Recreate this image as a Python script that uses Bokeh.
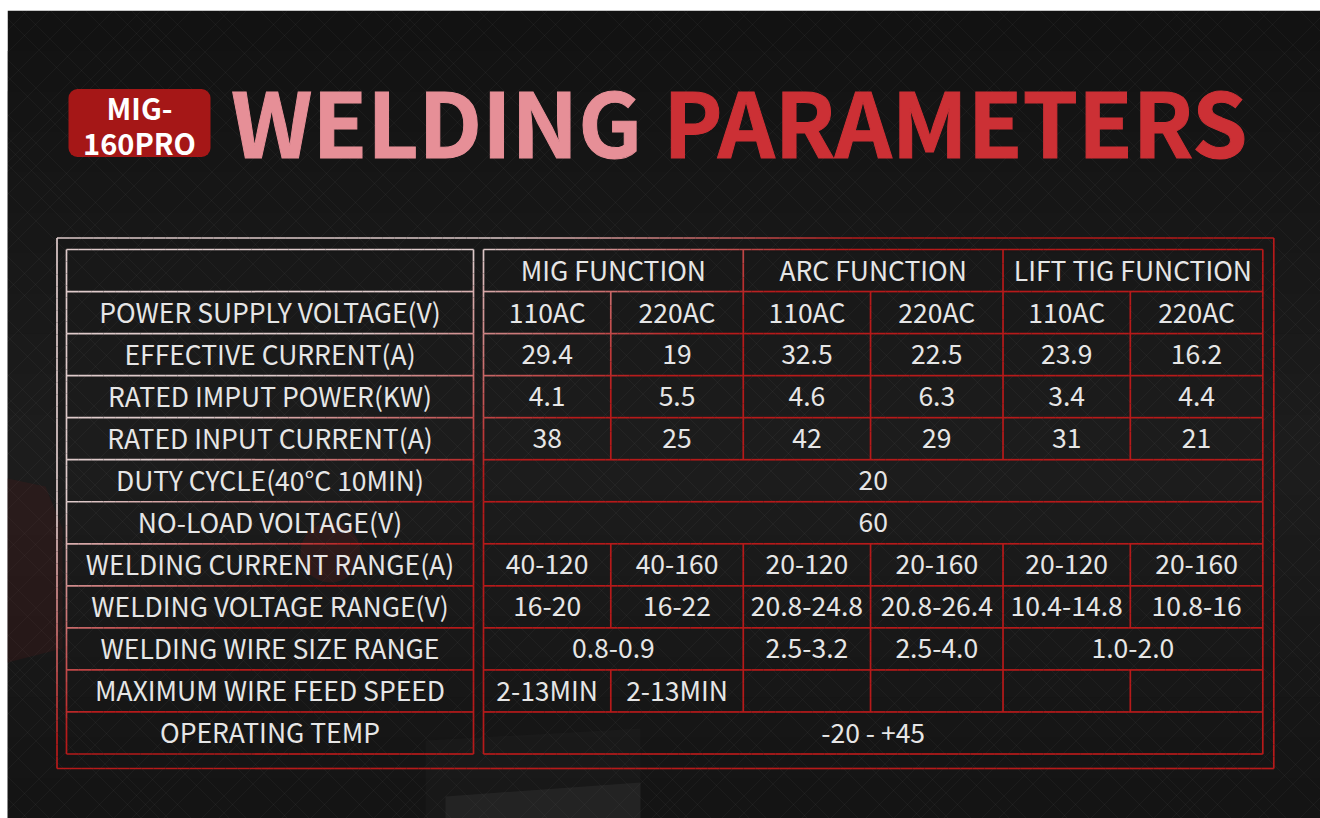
from bokeh.plotting import figure
from bokeh.models import Range1d, ColumnDataSource
from bokeh.core.properties import value
from bokeh.embed import file_html
from bokeh.resources import INLINE

# ---------------- data ----------------
badge_lines = ["MIG-", "160PRO"]
title_words = ["WELDING", "PARAMETERS"]
functions = ["MIG FUNCTION", "ARC FUNCTION", "LIFT TIG FUNCTION"]
row_labels = [
    "POWER SUPPLY VOLTAGE(V)",
    "EFFECTIVE CURRENT(A)",
    "RATED IMPUT POWER(KW)",
    "RATED INPUT CURRENT(A)",
    "DUTY CYCLE(40°C 10MIN)",
    "NO-LOAD VOLTAGE(V)",
    "WELDING CURRENT RANGE(A)",
    "WELDING VOLTAGE RANGE(V)",
    "WELDING WIRE SIZE RANGE",
    "MAXIMUM WIRE FEED SPEED",
    "OPERATING TEMP",
]
supply_voltage = ["110AC", "220AC", "110AC", "220AC", "110AC", "220AC"]
effective_current = [29.4, 19, 32.5, 22.5, 23.9, 16.2]
rated_input_power = [4.1, 5.5, 4.6, 6.3, 3.4, 4.4]
rated_input_current = [38, 25, 42, 29, 31, 21]
duty_cycle = 20
no_load_voltage = 60
welding_current_range = ["40-120", "40-160", "20-120", "20-160", "20-120", "20-160"]
welding_voltage_range = ["16-20", "16-22", "20.8-24.8", "20.8-26.4", "10.4-14.8", "10.8-16"]
wire_size_range = ["0.8-0.9", "2.5-3.2", "2.5-4.0", "1.0-2.0"]
wire_size_spans = [2, 1, 1, 2]
wire_feed_speed = ["2-13MIN", "2-13MIN", "", "", "", ""]
operating_temp = "-20 - +45"


def fmt(v):
    return f"{v:g}"


rows = [
    [(f, 2) for f in functions],
    [(s, 1) for s in supply_voltage],
    [(fmt(v), 1) for v in effective_current],
    [(fmt(v), 1) for v in rated_input_power],
    [(fmt(v), 1) for v in rated_input_current],
    [(fmt(duty_cycle), 6)],
    [(fmt(no_load_voltage), 6)],
    [(s, 1) for s in welding_current_range],
    [(s, 1) for s in welding_voltage_range],
    list(zip(wire_size_range, wire_size_spans)),
    [(s, 1) for s in wire_feed_speed],
    [(operating_temp, 6)],
]
labels = [""] + row_labels

# ---------------- layout ----------------
FONT = value("Noto Sans CJK SC")
PW, PH = 1320, 818
DX0, DY0 = 7, 10          # dark panel origin (white strip at left / top)
p = figure(width=PW, height=PH, x_range=Range1d(0, PW), y_range=Range1d(PH, 0),
           output_backend="svg", toolbar_location=None, min_border=0,
           x_axis_type=None, y_axis_type=None)
p.grid.visible = False
p.outline_line_color = None
p.background_fill_color = "#ffffff"
p.border_fill_color = "#ffffff"

# background vertical shading on the dark panel (overlapping opaque bands)
nb = 20
bh = (PH - DY0) / nb
bg_top, bg_bot, bg_col = [], [], []
for i in range(nb):
    t = (i + 0.5) / nb
    c = int(18 + 11 * (1 - abs(t - 0.55) / 0.55))
    bg_top.append(DY0 + i * bh)
    bg_bot.append(PH)
    bg_col.append(f"#{c:02x}{c:02x}{c:02x}")
p.quad(left=DX0, right=PW, top=bg_top, bottom=bg_bot, fill_color=bg_col, line_color=None)

# faint diagonal cross-hatching texture
hx0, hy0, hx1, hy1 = [], [], [], []
offs = [0, 23, 61, 78, 119, 141, 170, 205, 233, 251]
span_h = PH - DY0
for base in range(-900, 2200, 260):
    for o in offs:
        c = base + o
        hx0.append(c); hy0.append(PH); hx1.append(c + span_h); hy1.append(DY0)
        hx0.append(c); hy0.append(DY0); hx1.append(c + span_h); hy1.append(PH)
p.segment(hx0, hy0, hx1, hy1, line_color="#ffffff", line_alpha=0.035, line_width=1)
# mask the hatch in the white strips
p.quad(left=[0, 0], right=[DX0, PW], top=[0, 0], bottom=[PH, DY0], fill_color="#ffffff", line_color=None)

# faint background machine hints
p.patch([DX0, 45, 62, 62, DX0], [478, 486, 528, 648, 662], fill_color="#5a1c1c", fill_alpha=0.22, line_color=None)
p.circle(x=[330], y=[552], radius=30, fill_color="#6a1c1c", fill_alpha=0.25, line_color=None)
p.patch([425, 640, 640, 425], [740, 728, 818, 818], fill_color="#3a3a3a", fill_alpha=0.12, line_color=None)
p.patch([445, 640, 640, 445], [796, 782, 818, 818], fill_color="#5a5a5a", fill_alpha=0.18, line_color=None)

# badge
p.quad(left=[68], right=[210], top=[88.5], bottom=[156.5], fill_color="#a51717", line_color=None,
       border_radius=9)
p.text(x=[139, 139], y=[106, 141], text=badge_lines, text_font=FONT, text_font_style="bold",
       text_font_size="29px", text_align="center", text_baseline="middle", text_color="#ffffff")

# title
p.text(x=[436], y=[118.5], text=[title_words[0]], text_font=FONT, text_font_style="bold",
       text_font_size="89px", text_align="center", text_baseline="middle", text_color="#e68f97",
       text_outline_color="#e68f97")
p.text(x=[955], y=[118.5], text=[title_words[1]], text_font=FONT, text_font_style="bold",
       text_font_size="89px", text_align="center", text_baseline="middle", text_color="#cc3035",
       text_outline_color="#cc3035")

# table geometry
TOP, BOT = 249.0, 753.5
NR = len(rows)
RH = (BOT - TOP) / NR
LT_L, LT_R = 66.0, 473.0
RT_L, RT_R = 483.0, 1262.3
G = (RT_R - RT_L) / 3
col_edges = []
for k in range(3):
    col_edges += [RT_L + k * G, RT_L + k * G + 0.49 * G]
col_edges.append(RT_R)
OUT_L, OUT_R, OUT_T, OUT_B = 56.5, 1273.3, 237.5, 768.0


def grad_color(x, y):
    s = x + 1.6 * (y - 238)
    t = min(1.0, max(0.0, (s - 500) / 360))
    a = (222, 202, 202)
    b = (182, 26, 26)
    r, g, bb = (int(a[i] + (b[i] - a[i]) * t) for i in range(3))
    return f"#{r:02x}{g:02x}{bb:02x}"


sx0, sy0, sx1, sy1, scol = [], [], [], [], []


def add_line(xa, ya, xb, yb):
    length = ((xb - xa) ** 2 + (yb - ya) ** 2) ** 0.5
    n = max(1, int(length / 12))
    for i in range(n):
        ax = xa + (xb - xa) * i / n
        ay = ya + (yb - ya) * i / n
        bx = xa + (xb - xa) * (i + 1) / n
        by = ya + (yb - ya) * (i + 1) / n
        sx0.append(ax); sy0.append(ay); sx1.append(bx); sy1.append(by)
        scol.append(grad_color((ax + bx) / 2, (ay + by) / 2))


add_line(OUT_L, OUT_T, OUT_R, OUT_T)
add_line(OUT_L, OUT_B, OUT_R, OUT_B)
add_line(OUT_L, OUT_T, OUT_L, OUT_B)
add_line(OUT_R, OUT_T, OUT_R, OUT_B)

for i in range(NR + 1):
    y = TOP + i * RH
    add_line(LT_L, y, LT_R, y)
    add_line(RT_L, y, RT_R, y)
for x in (LT_L, LT_R, RT_L, RT_R):
    add_line(x, TOP, x, BOT)

tx, ty, tt = [], [], []
for r, cells in enumerate(rows):
    yt = TOP + r * RH
    yb = yt + RH
    yc = (yt + yb) / 2 - 1
    if labels[r]:
        tx.append((LT_L + LT_R) / 2); ty.append(yc); tt.append(labels[r])
    ci = 0
    for j, (txt, span) in enumerate(cells):
        xl = col_edges[ci]
        xr = col_edges[ci + span]
        if txt:
            tx.append((xl + xr) / 2); ty.append(yc); tt.append(txt)
        if j > 0:
            add_line(xl, yt, xl, yb)
        ci += span

p.segment(x0="x0", y0="y0", x1="x1", y1="y1", line_color="c", line_width=1.7,
          source=ColumnDataSource(dict(x0=sx0, y0=sy0, x1=sx1, y1=sy1, c=scol)))

p.text(x=tx, y=ty, text=tt, text_font=FONT, text_font_size="26.5px", text_align="center",
       text_baseline="middle", text_color="#e6e6e6")

open("out.html", "w").write(file_html(p, INLINE))
